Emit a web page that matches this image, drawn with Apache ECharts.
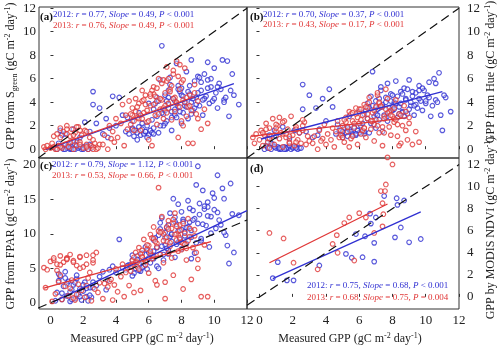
<!DOCTYPE html>
<html>
<head>
<meta charset="utf-8">
<script src="https://cdn.jsdelivr.net/npm/echarts@6/dist/echarts.min.js"></script>
<style>
  html, body { margin: 0; padding: 0; background: #fff; }
  #chart { width: 500px; height: 349px; }
</style>
</head>
<body>
<div id="chart"></div>
<script>
// ---- Daily measured GPP and camera / satellite based GPP estimates (gC m-2 day-1) ----

// 2012 season: measured GPP and the matching estimates from Sgreen, Hue and FPAR
const meas2012 = [
  0.3, 0.4, 0.5, 0.6, 0.7, 0.8, 0.9, 1.0, 1.1, 1.2,
  1.3, 1.4, 1.5, 1.6, 1.7, 1.8, 1.9, 2.0, 2.1, 2.2,
  2.3, 2.4, 2.5, 0.5, 0.7, 1.0, 1.3, 1.6, 2.0, 2.4,
  2.6, 2.6, 2.8, 3.0, 3.2, 3.4, 3.6, 3.8, 4.0, 4.2, 4.4, 3.5,
  4.6, 4.8, 5.0, 5.1, 5.2, 5.3, 5.4, 5.5, 5.6, 5.7,
  5.8, 5.9, 6.0, 6.1, 6.2, 5.0, 5.3, 5.6, 5.9, 6.3,
  6.3, 6.5, 6.6, 6.8, 6.9, 7.0, 7.1, 7.2, 7.3, 7.4,
  7.5, 7.6, 7.7, 7.8, 7.9, 8.0, 8.1, 8.2, 8.3, 8.4,
  8.5, 8.6, 8.7, 8.8, 8.9, 9.0, 9.1, 9.2, 9.3, 9.4,
  9.5, 9.6, 9.7, 9.8, 9.9, 10.0, 10.1, 10.2, 10.3, 10.5,
  10.6, 10.8, 10.9, 11.0, 11.2, 11.5, 6.7, 7.3, 8.0, 8.6,
  6.2, 6.4, 6.6, 6.8, 7.0, 7.2, 7.4, 7.6, 7.8, 8.0,
  8.2, 8.4, 8.6, 8.8, 9.0, 9.2, 9.4, 9.6, 9.8, 10.0,
  10.4, 10.7, 11.1, 6.9, 7.7,
  4.7, 5.0, 5.4, 5.8, 6.0, 6.3, 6.5, 6.7, 7.0, 7.2,
  7.4, 7.6, 7.9, 8.1, 8.3, 8.5, 8.7, 8.9, 9.1, 9.3,
  1.2, 1.5, 1.8, 2.2, 0.9, 9.6, 10.2, 10.6, 7.1, 7.8
];
const sgreen2012 = [
  0.1, 0.0, 0.3, 1.6, 0.2, 0.0, 1.3, 0.1, 0.4, 0.0,
  0.2, 1.7, 0.0, 0.3, 0.1, 1.0, 0.0, 0.2, 2.3, 0.1,
  0.0, 0.4, 0.1, 0.5, 1.2, 0.2, 0.0, 0.6, 0.0, 1.5,
  4.9, 3.8, 2.2, 3.5, 1.3, 2.6, 1.8, 4.5, 2.0, 4.4, 2.9, 1.0,
  1.5, 1.3, 1.8, 1.1, 1.6, 1.4, 1.9, 1.2, 1.7, 1.3,
  1.5, 2.0, 1.2, 1.6, 1.4, 2.4, 0.8, 2.2, 1.0, 1.8,
  3.4, 2.8, 4.1, 8.8, 3.0, 4.6, 2.4, 3.8, 5.5, 3.2,
  4.3, 2.9, 7.3, 3.6, 4.9, 5.2, 3.1, 4.0, 6.6, 2.6,
  4.7, 7.6, 3.3, 5.8, 4.4, 6.2, 3.7, 5.0, 2.9, 6.4,
  4.5, 7.4, 3.9, 5.3, 4.1, 6.9, 4.8, 3.5, 5.6, 7.6,
  4.2, 7.5, 2.8, 5.0, 4.6, 3.8, 5.9, 6.1, 2.2, 3.0,
  2.5, 3.9, 1.4, 3.1, 2.2, 4.4, 1.6, 3.4, 5.1, 4.6,
  3.7, 4.9, 4.0, 3.5, 4.8, 5.7, 4.3, 5.2, 6.0, 4.3,
  5.1, 4.4, 6.4, 2.0, 2.7,
  2.7, 1.7, 3.1, 1.5, 3.9, 1.3, 4.4, 2.0, 3.3, 5.0,
  2.7, 4.1, 3.2, 4.5, 3.6, 5.4, 4.3, 3.8, 6.1, 4.2,
  0.1, 0.4, 0.2, 0.3, 0.0, 5.9, 5.3, 4.0, 4.1, 5.4
];
const hue2012 = [
  0.0, 0.3, 0.1, 1.2, 0.0, 0.4, 1.6, 0.1, 0.2, 0.0,
  0.1, 1.9, 0.2, 0.0, 0.1, 0.9, 0.0, 0.1, 1.6, 0.2,
  0.0, 0.1, 0.1, 0.9, 0.5, 1.1, 0.0, 0.1, 0.2, 1.4,
  5.5, 3.4, 1.5, 4.6, 1.0, 3.5, 1.7, 4.3, 2.4, 5.1, 3.6, 1.2,
  1.3, 1.6, 1.2, 1.8, 1.4, 1.1, 1.7, 1.5, 1.3, 1.9,
  1.2, 1.6, 1.4, 2.0, 1.5, 1.0, 1.8, 1.2, 1.6, 1.3,
  3.0, 2.6, 3.6, 6.6, 2.8, 4.1, 3.4, 2.5, 5.0, 3.8,
  2.9, 4.4, 5.6, 3.1, 4.7, 3.3, 4.0, 5.8, 2.7, 3.6,
  4.9, 3.2, 5.2, 4.3, 3.0, 5.9, 3.7, 4.5, 2.9, 4.8,
  3.5, 5.4, 4.1, 3.3, 5.0, 3.9, 4.6, 5.7, 2.8, 6.0,
  4.2, 6.5, 2.9, 1.6, 4.4, 3.2, 4.5, 5.3, 3.6, 3.1,
  2.2, 3.3, 1.4, 3.7, 1.8, 3.5, 1.5, 4.0, 3.2, 4.6,
  3.9, 3.0, 4.7, 4.2, 3.4, 4.9, 3.8, 4.3, 5.2, 4.1,
  3.7, 4.0, 4.6, 2.1, 2.4,
  2.1, 1.5, 2.8, 1.3, 3.2, 1.5, 3.9, 2.2, 3.0, 4.3,
  3.6, 2.7, 4.1, 3.4, 4.5, 3.9, 2.8, 5.1, 4.0, 3.7,
  0.1, 0.0, 0.3, 0.1, 0.2, 5.0, 4.4, 5.6, 2.9, 3.5
];
const fpar2012 = [
  0.3, 1.5, 4.2, 3.8, 0.5, 2.4, 4.5, 1.0, 3.1, 0.2,
  1.9, 2.6, 0.6, 3.5, 1.2, 2.0, 0.4, 1.7, 3.0, 0.9,
  0.3, 2.2, 0.8, 3.2, 1.4, 2.8, 0.5, 4.0, 2.6, 1.1,
  3.0, 2.2, 2.5, 3.8, 4.5, 1.9, 4.8, 5.3, 4.4, 9.2, 5.1, 3.3,
  4.8, 5.5, 6.2, 4.3, 5.0, 6.8, 5.7, 4.6, 7.2, 5.3,
  6.0, 4.9, 6.5, 5.8, 7.0, 3.9, 6.3, 5.1, 7.6, 6.4,
  7.5, 5.3, 9.8, 12.3, 6.2, 8.4, 10.9, 7.1, 13.0, 8.9,
  15.1, 6.6, 11.4, 14.3, 9.2, 7.8, 12.1, 10.3, 8.6, 14.8,
  11.7, 9.5, 13.4, 7.2, 17.1, 19.8, 12.8, 9.0, 16.3, 13.6,
  11.2, 13.9, 8.1, 12.5, 15.9, 15.2, 10.8, 18.5, 12.0, 16.6,
  15.1, 8.3, 5.7, 17.3, 7.3, 12.7, 11.6, 9.6, 10.6, 6.4,
  6.8, 9.4, 5.0, 8.2, 10.2, 7.6, 9.9, 11.8, 8.8, 13.2,
  9.7, 11.0, 10.5, 12.2, 11.5, 9.3, 14.0, 12.6, 10.1, 13.5,
  11.3, 9.8, 12.9, 7.0, 8.5,
  5.4, 6.9, 4.7, 8.1, 7.3, 9.1, 8.0, 10.7, 9.4, 11.3,
  10.0, 12.4, 9.2, 11.8, 10.9, 13.7, 12.0, 8.7, 14.4, 11.4,
  1.6, 2.9, 0.9, 2.1, 3.6, 14.6, 13.1, 10.2, 7.9, 10.4
];

// 2013 season
const meas2013 = [
  -0.4, -0.3, -0.2, 0.0, 0.1, 0.2, 0.3, 0.4, 0.5, 0.6,
  0.7, 0.8, 0.9, 1.0, 1.1, 1.2, 1.3, 1.4, 1.5, 1.6,
  1.7, 1.8, 1.9, 2.0, 2.1, 2.2, 2.3, 2.4, 2.5, 2.6,
  2.7, 2.8, 2.9, 3.0, 0.6, 1.0, 1.4, 1.8, 2.2, 2.6,
  3.2, 3.3, 3.5, 3.6, 3.8, 3.9, 4.0, 4.1, 4.3, 4.4, 4.5, 4.6, 4.7, 4.8, 3.7,
  4.9, 5.0, 5.1, 5.2, 5.3, 5.4, 5.5, 5.6, 5.7, 5.8,
  5.9, 6.0, 6.1, 6.2, 6.3, 6.4, 6.5, 6.6, 6.7, 6.8,
  6.9, 7.0, 7.1, 7.2, 7.3, 7.4, 7.5, 7.6, 7.7, 7.8,
  7.9, 8.0, 8.1, 8.2, 8.3, 8.4, 8.5, 8.6, 8.7, 8.8,
  8.9, 9.0, 9.2, 9.4, 9.6, 5.2, 5.6, 6.0, 6.3, 6.6,
  6.9, 7.2, 7.5, 7.8, 8.1, 5.4, 5.8, 6.2, 6.5, 6.8,
  7.1, 7.4, 7.7, 8.0, 8.4, 5.0, 6.1, 7.0, 7.9, 9.0,
  4.9, 5.1, 5.3, 5.5, 5.7, 5.9, 6.1, 6.3, 6.5, 6.7,
  6.9, 7.1, 7.3, 7.5, 7.7, 7.9, 8.1, 8.3, 8.5, 8.8,
  0.2, 0.6, 1.0, 1.4, 1.8, 2.2, 2.6, 0.4, 1.2, 1.6,
  5.6, 6.4, 7.2, 7.6, 8.2
];
const sgreen2013 = [
  0.2, 0.0, 0.3, 0.1, 0.5, 0.2, 0.0, 1.3, 0.3, 1.8,
  0.1, 1.5, 0.4, 2.0, 0.2, 1.1, 1.7, 0.0, 1.4, 0.3,
  1.9, 0.6, 1.2, 0.1, 1.6, 0.4, 0.0, 1.0, 0.3, 0.2,
  0.5, 0.0, 0.1, 0.4, 1.0, 1.3, 0.7, 1.6, 0.2, 0.0,
  0.4, 1.2, 0.0, 2.0, 1.5, 0.6, 2.6, 1.0, 2.2, 3.8, 0.3, 2.9, 1.7, 4.1, 0.9,
  2.1, 3.5, 1.6, 4.3, 2.7, 3.9, 1.6, 5.0, 3.1, 4.6,
  2.3, 0.8, 3.7, 0.3, 5.3, 2.9, 4.1, 6.0, 3.4, 5.6,
  2.6, 4.8, 7.0, 3.9, 5.1, 2.5, 6.4, 4.4, 7.5, 1.0,
  3.6, 5.7, 4.2, 6.9, 2.8, 0.5, 4.6, 3.3, 0.5, 5.5,
  3.0, 4.1, 1.7, 3.4, 2.2, 3.2, 4.1, 2.4, 4.7, 3.0,
  5.9, 3.5, 4.3, 6.2, 2.0, 2.6, 3.8, 5.0, 2.1, 4.2,
  3.1, 5.4, 3.9, 2.4, 3.6, 2.9, 4.5, 3.7, 7.2, 2.6,
  3.0, 2.4, 3.6, 2.9, 4.2, 3.3, 4.7, 3.8, 5.2, 4.3,
  3.5, 5.8, 4.9, 6.7, 4.0, 5.1, 5.9, 4.4, 3.7, 4.8,
  1.1, 0.2, 1.7, 1.2, 0.4, 1.5, 0.8, 0.0, 0.6, 1.9,
  2.6, 4.5, 6.0, 3.2, 4.0
];
const hue2013 = [
  1.0, 0.5, 1.3, 0.8, 1.6, 0.3, 1.2, 2.2, 0.6, 1.8,
  1.1, 2.6, 0.4, 1.5, 2.0, 0.9, 1.4, 0.2, 2.4, 1.0,
  1.7, 0.6, 2.8, 1.2, 0.3, 1.9, 0.8, 1.4, 0.5, 1.6,
  2.3, 0.4, 1.1, 0.7, 0.1, 2.1, 1.3, 0.5, 1.7, 2.5,
  0.5, 1.1, 0.0, 1.6, 0.9, 2.1, 0.4, 1.3, 0.8, 1.8, 0.2, 1.5, 2.4, 1.0, 0.7,
  1.2, 2.0, 0.6, 2.7, 1.5, 3.2, 0.9, 2.4, 1.8, 3.5,
  0.4, 2.2, 1.3, 2.9, 3.8, 1.0, 2.6, 4.0, 1.7, 3.1,
  0.7, 2.5, 4.6, 1.4, 3.6, 0.3, 2.8, 5.1, -0.7, 1.9,
  3.3, -1.3, 2.3, 4.2, 1.1, 3.0, 0.5, 2.0, 3.7, 1.6,
  0.8, 2.7, 0.4, 1.5, 0.6, 2.3, 1.1, 3.4, 1.8, 4.4,
  2.1, 3.9, 1.4, 3.2, 2.6, 0.2, 3.0, 1.6, 3.5, 2.4,
  4.8, 1.9, 3.1, 2.8, 0.3, 1.0, 2.5, 3.6, 1.2, 2.2,
  1.6, 2.5, 1.9, 3.0, 2.2, 2.7, 3.4, 1.8, 3.0, 2.4,
  3.3, 2.0, 3.7, 2.6, 4.3, 2.9, 3.5, 2.1, 2.9, 3.2,
  1.4, 0.9, 1.8, 2.3, 1.1, 0.6, 2.0, 1.7, 2.7, 1.3,
  3.1, 3.6, 4.0, 3.4, 2.5
];
const fpar2013 = [
  5.1, 2.2, 4.8, 6.0, 0.2, 6.2, 1.3, 5.6, 3.0, 6.8,
  0.5, 5.9, 2.4, 6.5, 1.0, 7.0, 3.3, 6.1, 0.4, 5.4,
  2.7, 6.6, 1.8, 5.2, 0.8, 6.9, 3.6, 4.4, 0.3, 5.8,
  2.0, 7.3, 1.5, 2.9, 4.0, 6.4, 0.7, 5.0, 2.5, 6.2,
  0.6, 2.8, 2.3, 3.1, 0.4, 2.6, 4.9, 1.6, 3.8, 5.6, 0.9, 4.4, 5.1, 2.5, 3.4,
  4.6, 6.1, 1.5, 7.3, 5.2, 8.0, 1.8, 6.7, 9.2, 5.5,
  7.8, 4.3, 9.9, 6.4, 11.0, 3.2, 8.6, 10.4, 7.0, 12.5,
  5.8, 0.6, 9.5, 11.9, 8.2, 10.8, 4.0, 13.0, 9.1, 7.5,
  11.3, 8.8, 2.0, 10.1, 6.2, 12.2, 9.6, 3.4, 8.0, 10.6,
  7.3, 5.0, 0.9, 8.4, 0.9, 5.9, 7.6, 8.3, 6.8, 16.7,
  10.0, 7.2, 11.6, 9.8, 8.6, 4.9, 6.0, 9.4, 2.6, 10.3,
  8.9, 6.5, 11.1, 7.7, 9.0, 5.6, 7.1, 3.0, 10.5, 6.3,
  5.3, 6.6, 5.9, 7.1, 6.3, 8.4, 7.5, 9.3, 8.1, 10.2,
  9.0, 11.0, 8.7, 12.1, 10.0, 9.4, 11.5, 7.9, 10.8, 9.7,
  6.5, 5.5, 6.3, 5.9, 6.7, 5.6, 6.9, 4.7, 2.1, 1.2,
  6.6, 8.9, 10.7, 9.9, 8.5
];

// MODIS NDVI based GPP (8-day composites)
const ndviMeas2012 = [0.8, 1.1, 1.65, 2.05, 3.6, 5.2, 5.55, 6.2, 6.35, 5.8, 6.65, 6.7, 7.0, 6.9, 6.9, 7.5, 8.25, 8.3, 8.7, 8.15, 8.5, 9.0, 9.7];
const ndvi2012     = [1.7, 3.15, 1.5, 1.5, 2.85, 3.9, 3.55, 3.6, 5.5, 5.7, 7.55, 6.65, 7.2, 4.9, 3.2, 9.15, 8.95, 8.35, 8.75, 5.4, 6.3, 4.95, 5.25];
const ndviMeas2013 = [0.6, 1.45, 2.05, 3.5, 4.4, 4.65, 4.7, 5.1, 5.4, 5.7, 6.0, 6.4, 6.9, 7.4, 7.45, 7.4, 7.3, 7.55, 7.6];
const ndvi2013     = [5.8, 5.3, 3.1, 2.5, 4.8, 5.6, 4.0, 6.7, 7.2, 3.3, 7.6, 7.2, 5.8, 6.4, 7.5, 8.5, 9.6, 9.6, 10.2];

// Regression statistics per panel: (a) Sgreen, (b) Hue, (c) FPAR, (d) MODIS NDVI
const panelTags     = ['(a)', '(b)', '(c)', '(d)'];
const rVals2012     = [0.77, 0.70, 0.79, 0.75];
const slope2012     = [0.49, 0.37, 1.12, 0.68];
const pText2012     = ['< 0.001', '< 0.001', '< 0.001', '< 0.001'];
const intercept2012 = [0.10, 0.83, -0.06, 1.11];
const fitSpan2012   = [[-0.3, 11.2], [0.1, 11.0], [0.2, 12.0], [0.8, 9.7]];
const rVals2013     = [0.76, 0.43, 0.53, 0.68];
const slope2013     = [0.49, 0.17, 0.66, 0.75];
const pText2013     = ['< 0.001', '< 0.001', '< 0.001', '= 0.004'];
const intercept2013 = [0.15, 1.17, 2.40, 2.65];
const fitSpan2013   = [[-0.4, 8.8], [-0.5, 8.9], [-0.4, 9.8], [0.6, 7.7]];

// Axis ticks
const xTicks   = [0, 2, 4, 6, 8, 10, 12];
const yTicks12 = [0, 2, 4, 6, 8, 10, 12];
const yTicks20 = [0, 5, 10, 15, 20];

// ---- layout & styling ----
const FONT = "'Liberation Serif', 'Times New Roman', serif";
const BLUE = '#3030d2';
const RED = '#e03636';
const INK = '#222';

const panels = [
  { box: { left: 39,  top: 7,   width: 208, height: 151 }, xMin: -0.7,  yMin: -0.75, yMax: 12.1, yTicks: yTicks12, side: 'left',  xLabels: false },
  { box: { left: 247, top: 7,   width: 212, height: 151 }, xMin: -0.75, yMin: -0.75, yMax: 12.1, yTicks: yTicks12, side: 'right', xLabels: false },
  { box: { left: 39,  top: 158, width: 208, height: 151 }, xMin: -0.7,  yMin: -0.9,  yMax: 21,   yTicks: yTicks20, side: 'left',  xLabels: true },
  { box: { left: 247, top: 158, width: 212, height: 151 }, xMin: -0.75, yMin: -1.1,  yMax: 12.6, yTicks: yTicks12, side: 'right', xLabels: true }
];

// where each panel's tag and statistics lines sit
const statLayout = [
  { tag: [40, 17],  l1: [53, 15],   l2: [53, 26] },
  { tag: [250, 17], l1: [263, 15],  l2: [263, 25] },
  { tag: [40, 166], l1: [52, 165],  l2: [52, 176] },
  { tag: [250, 169], l1: [307, 286], l2: [307, 298] }
];

const pairs = (xs, ys) => xs.map((x, i) => [x, ys[i]]);

const scatterSets = [
  [pairs(meas2012, sgreen2012), pairs(meas2013, sgreen2013)],
  [pairs(meas2012, hue2012),    pairs(meas2013, hue2013)],
  [pairs(meas2012, fpar2012),   pairs(meas2013, fpar2013)],
  [pairs(ndviMeas2012, ndvi2012), pairs(ndviMeas2013, ndvi2013)]
];

const grids = [], xAxes = [], yAxes = [], series = [], graphics = [];

panels.forEach((p, i) => {
  grids.push(Object.assign({ show: true, borderColor: '#333', borderWidth: 1, backgroundColor: 'transparent' }, p.box));
  xAxes.push({
    type: 'value', gridIndex: i, min: p.xMin, max: 12, position: 'bottom',
    axisLine: { show: false },
    splitLine: { show: false },
    axisTick: { show: true, inside: true, length: 3, customValues: xTicks, lineStyle: { color: '#333' } },
    axisLabel: { show: p.xLabels, customValues: xTicks, margin: 5, fontFamily: FONT, fontSize: 13, color: INK }
  });
  yAxes.push({
    type: 'value', gridIndex: i, min: p.yMin, max: p.yMax, position: p.side,
    axisLine: { show: false },
    splitLine: { show: false },
    axisTick: { show: true, inside: true, length: 3, customValues: p.yTicks, lineStyle: { color: '#333' } },
    axisLabel: { show: true, customValues: p.yTicks, margin: p.side === 'left' ? 3 : 8, fontFamily: FONT, fontSize: 13, color: INK }
  });

  const [d12, d13] = scatterSets[i];
  const dot = (data, color) => ({
    type: 'scatter', xAxisIndex: i, yAxisIndex: i, data,
    symbol: 'circle', symbolSize: 4.6, clip: false, z: 2, silent: true,
    itemStyle: { color: 'rgba(255,255,255,0.45)', borderColor: color, borderWidth: 1.2 }
  });
  series.push(dot(d12, BLUE), dot(d13, RED));

  const fit = (a, b, span, color) => ({
    type: 'line', xAxisIndex: i, yAxisIndex: i, symbol: 'none', z: 4, silent: true,
    data: span.map(x => [x, a + b * x]),
    lineStyle: { color, width: 1.3 }
  });
  series.push(fit(intercept2012[i], slope2012[i], fitSpan2012[i], BLUE));
  series.push(fit(intercept2013[i], slope2013[i], fitSpan2013[i], RED));

  // 1:1 reference line
  series.push({
    type: 'line', xAxisIndex: i, yAxisIndex: i, symbol: 'none', z: 5, silent: true,
    data: [[-0.75, -0.75], [12, 12]],
    lineStyle: { color: '#111', width: 1.2, type: [9, 5] }
  });

  // tag and statistics text
  const L = statLayout[i];
  graphics.push({
    type: 'text', x: L.tag[0], y: L.tag[1], z: 100,
    style: { text: panelTags[i], fill: '#111', font: 'bold 11px ' + FONT, align: 'left', verticalAlign: 'middle' }
  });
  const statText = (year, r, s, pv) =>
    `{n|${year}: }{i|r}{n| = ${r.toFixed(2)}, }{i|Slope}{n| = ${s.toFixed(2)}, }{i|P}{n| ${pv}}`;
  const statRich = color => ({
    n: { fill: color, fontSize: 9, fontFamily: FONT },
    i: { fill: color, fontSize: 9, fontFamily: FONT, fontStyle: 'italic' }
  });
  graphics.push({
    type: 'text', x: L.l1[0], y: L.l1[1], z: 100,
    style: { text: statText(2012, rVals2012[i], slope2012[i], pText2012[i]), rich: statRich(BLUE), fill: BLUE, align: 'left', verticalAlign: 'middle' }
  });
  graphics.push({
    type: 'text', x: L.l2[0], y: L.l2[1], z: 100,
    style: { text: statText(2013, rVals2013[i], slope2013[i], pText2013[i]), rich: statRich(RED), fill: RED, align: 'left', verticalAlign: 'middle' }
  });
});

// axis titles
const titleRich = {
  t:   { fontSize: 12, fontFamily: FONT, fill: INK, lineHeight: 15 },
  sup: { fontSize: 8,  fontFamily: FONT, fill: INK, lineHeight: 15, verticalAlign: 'top' },
  sub: { fontSize: 8,  fontFamily: FONT, fill: INK, lineHeight: 15, verticalAlign: 'bottom' }
};
const unit = '{t| (gC m}{sup|-2}{t| day}{sup|-1}{t|)}';
const titles = [
  { text: '{t|GPP from S}{sub|green}' + unit, x: 11,  y: 76,  rot: Math.PI / 2 },
  { text: '{t|GPP from FPAR}' + unit,         x: 11,  y: 234, rot: Math.PI / 2 },
  { text: '{t|GPP from Hue}' + unit,          x: 491, y: 72,  rot: Math.PI / 2 },
  { text: '{t|GPP by MODIS NDVI}' + unit,     x: 491, y: 228, rot: Math.PI / 2 },
  { text: '{t|Measured GPP}' + unit,          x: 142, y: 339, rot: 0 },
  { text: '{t|Measured GPP}' + unit,          x: 350, y: 339, rot: 0 }
];
titles.forEach(t => graphics.push({
  type: 'text', x: t.x, y: t.y, rotation: t.rot, z: 100,
  style: { text: t.text, rich: titleRich, fill: INK, align: 'center', verticalAlign: 'middle' }
}));

const chart = echarts.init(document.getElementById('chart'), null, { renderer: 'canvas' });
chart.setOption({
  animation: false,
  backgroundColor: '#fff',
  grid: grids,
  xAxis: xAxes,
  yAxis: yAxes,
  series,
  graphic: graphics
});
</script>
</body>
</html>
